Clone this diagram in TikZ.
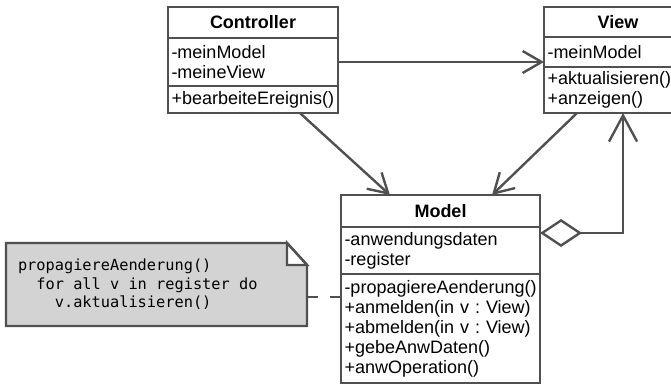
\documentclass[tikz,border=0pt]{standalone}
\usepackage{fontspec}
\setmainfont{Liberation Sans}
\newfontfamily\codefont{DejaVu Sans Mono}
\usetikzlibrary{arrows.meta,calc,backgrounds}

\definecolor{umlline}{HTML}{505050}
\definecolor{notefill}{HTML}{D3D3D3}

\newcommand\umlfont{\fontsize{18}{20}\selectfont\frenchspacing}
\newcommand\notefont{\codefont\fontsize{15.3}{18.5}\selectfont}
% one fixed character cell of the monospaced note text
\newcommand\cell{\hphantom{x}}

\tikzset{
  box/.style={draw=umlline, line width=2.4pt, rectangle, anchor=north west,
    outer sep=0pt, inner ysep=0pt, text=black},
  titlebox/.style={box, align=center, font=\umlfont\bfseries},
  compart/.style={box, inner xsep=3.5pt, align=left, font=\umlfont},
  notebox/.style={rectangle, anchor=north west, outer sep=0pt, inner ysep=0pt,
    inner xsep=12pt, align=left, font=\notefont, text=black},
  conn/.style={draw=umlline, line width=2.4pt},
  assoc/.style={conn, -{Straight Barb[length=19pt,width=22pt]}},
  aggr/.style={conn, {Diamond[open,length=42pt,width=28pt]}-{Straight Barb[length=26pt,width=28pt]}},
  dashline/.style={conn, dash pattern=on 11pt off 12pt},
}

\begin{document}
\begin{tikzpicture}[x=1pt,y=-1pt]
\useasboundingbox (0,0) rectangle (671,386);
\clip (0,0) rectangle (671,386);

% Controller class
\node[titlebox, minimum width=170pt, minimum height=31pt] (ct) at (168,7) {Controller};
\node[compart, text width=163pt, minimum height=48pt] (ca) at (168,38) {-meinModel\\-meineView};
\node[compart, text width=163pt, minimum height=27pt] (cm) at (168,86) {\mbox{+bearbeiteEreignis()}};

% View class
\node[titlebox, minimum width=148pt, minimum height=30pt] (vt) at (544,7) {View};
\node[compart, text width=141pt, minimum height=30pt] (va) at (544,37) {-meinModel};
\node[compart, text width=141pt, minimum height=46pt] (vm) at (544,67) {\mbox{+aktualisieren()}\\+anzeigen()};

% Model class
\node[titlebox, minimum width=199pt, minimum height=32pt] (mt) at (341,195) {Model};
\node[compart, text width=192pt, minimum height=47pt] (ma) at (341,227) {-anwendungsdaten\\-register};
\node[compart, text width=192pt, minimum height=109pt] (mm) at (341,274)
  {\mbox{-propagiereAenderung()}\\\mbox{+anmelden(in v : View)}\\\mbox{+abmelden(in v : View)}\\+gebeAnwDaten()\\+anwOperation()};

% Note with folded corner
\node[notebox, text width=277pt, minimum height=83pt] (note) at (6,243)
  {propagiereAenderung()\\
   \cell\cell for\cell all\cell v\cell in\cell register\cell do\\
   \cell\cell\cell\cell v.aktualisieren()};
\begin{scope}[on background layer]
  \path[conn, fill=notefill] (note.north west) -- ($(note.north east)+(-20,0)$)
    -- ($(note.north east)+(0,22)$) -- (note.south east) -- (note.south west) -- cycle;
  \path[conn, fill=white, line join=miter] ($(note.north east)+(-20,0)$)
    -- ($(note.north east)+(-20,22)$) -- ($(note.north east)+(0,22)$) -- cycle;
\end{scope}

% Connectors
\coordinate (dashy) at (0,297);
\coordinate (aggy) at (0,233);
\draw[assoc] (ca.east) -- (ca.east -| vt.west);
\draw[assoc] ($(cm.south west)!0.776!(cm.south east)$) -- ($(mt.north west)!0.246!(mt.north east)$);
\draw[assoc] ($(vm.south west)!0.223!(vm.south east)$) -- ($(mt.north west)!0.759!(mt.north east)$);
\draw[aggr] (ma.east |- aggy) -| ($(vm.south west)!0.534!(vm.south east)$);
\draw[dashline] (note.east |- dashy) -- (mm.west |- dashy);
\end{tikzpicture}
\end{document}
